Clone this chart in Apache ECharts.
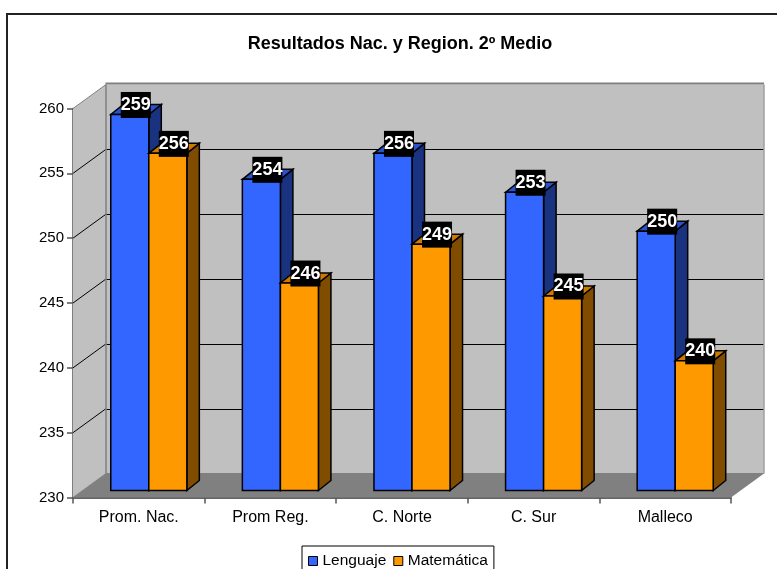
<!DOCTYPE html>
<html lang="es">
<head>
    <meta charset="UTF-8"/>
    <title>Resultados Nac. y Region. 2º Medio</title>
    <script src="https://cdn.jsdelivr.net/npm/echarts@6/dist/echarts.min.js"></script>
    <style>
        html, body {margin: 0; padding: 0; background: #fff; overflow: hidden;}
    </style>
</head>
<body>

<div id="main" style="width: 777px;height: 569px;"></div>

<script type="text/javascript">
    var categories = ['Prom. Nac.', 'Prom Reg.', 'C. Norte', 'C. Sur', 'Malleco'];
    var lenguaje = [259, 254, 256, 253, 250];
    var matematica = [256, 246, 249, 245, 240];
    var yTicks = [230, 235, 240, 245, 250, 255, 260];

    var font = '"Liberation Sans", Arial, sans-serif';

    // fake 3D depth, in pixels
    var wallDx = 33, wallDy = -24;   // front of floor -> back wall
    var barDx = 10, barDy = -7;      // front of floor -> bar front
    var depthDx = 12.5, depthDy = -10; // depth of one bar

    function line(x1, y1, x2, y2, color, width) {
        return {
            type: 'line',
            shape: {x1: x1, y1: y1, x2: x2, y2: y2},
            style: {stroke: color, lineWidth: width}
        };
    }

    function poly(points, fill, stroke, width) {
        return {
            type: 'polygon',
            shape: {points: points},
            style: {fill: fill, stroke: stroke, lineWidth: width, lineJoin: 'miter'}
        };
    }

    // side wall, back wall, floor and gridlines
    function renderWalls(params, api) {
        var l = params.coordSys.x;
        var w = params.coordSys.width;
        var r = l + w;
        var top = api.coord([0, yTicks[yTicks.length - 1]])[1];
        var bot = api.coord([0, yTicks[0]])[1];
        var bl = l + wallDx, br = r + wallDx;
        var items = [
            poly([[bl, top + wallDy], [br, top + wallDy], [br, bot + wallDy], [bl, bot + wallDy]], '#c0c0c0', 'none', 0),
            poly([[l, top], [bl, top + wallDy], [bl, bot + wallDy], [l, bot]], '#c0c0c0', 'none', 0),
            poly([[l, bot], [bl, bot + wallDy], [br, bot + wallDy], [r, bot]], '#808080', 'none', 0)
        ];
        yTicks.forEach(function (v) {
            if (v === yTicks[0] || v === yTicks[yTicks.length - 1]) return;
            var y = api.coord([0, v])[1];
            items.push(line(l, y, bl, y + wallDy, '#000', 1));
            items.push(line(bl, Math.round(y + wallDy) + 0.5, br, Math.round(y + wallDy) + 0.5, '#000', 1));
        });
        items.push(line(bl - 0.5, top + wallDy - 1, br, top + wallDy - 1, '#808080', 2));
        items.push(line(l, top, bl, top + wallDy, '#808080', 1));
        items.push(line(bl, top + wallDy, bl, bot + wallDy, '#808080', 1.5));
        items.push(line(bl, bot + wallDy, br, bot + wallDy, '#808080', 1));
        items.push(line(br, top + wallDy, br, bot + wallDy, '#a0a0a0', 1.5));
        items.push(line(l, bot, bl, bot + wallDy, '#808080', 1));
        return {type: 'group', children: items};
    }

    function makeBar(side, front, sideColor, topColor) {
        return function (params, api) {
            var cat = api.value(0);
            var val = api.value(1);
            var center = api.coord([cat, val]);
            var base = api.coord([cat, yTicks[0]]);
            var barW = api.size([1, 0])[0] * 0.289;
            // blue sits left of the category centre, orange right of it
            var x0 = center[0] + barDx + (side < 0 ? -barW : 0);
            var x1 = x0 + barW;
            var yT = center[1] + barDy;
            var yB = base[1] + barDy;
            var black = '#000';
            return {
                type: 'group',
                children: [
                    poly([[x1, yT], [x1 + depthDx, yT + depthDy], [x1 + depthDx, yB + depthDy], [x1, yB]], sideColor, black, 1.5),
                    poly([[x0, yT], [x0 + depthDx, yT + depthDy], [x1 + depthDx, yT + depthDy], [x1, yT]], topColor, black, 1.5),
                    poly([[x0, yT], [x1, yT], [x1, yB], [x0, yB]], front, black, 1.5),
                    {
                        type: 'text',
                        z2: 10,
                        style: {
                            text: String(val),
                            x: (x0 + x1) / 2 + 6,
                            y: yT - 9.5,
                            align: 'center',
                            verticalAlign: 'middle',
                            fill: '#fff',
                            font: 'bold 18px ' + font,
                            backgroundColor: '#000',
                            padding: [4, 0, 4, 0]
                        }
                    }
                ]
            };
        };
    }

    var myChart = echarts.init(document.getElementById('main'));

    var option = {
        animation: false,
        title: {
            text: 'Resultados Nac. y Region. 2º Medio',
            left: 395,
            top: 30,
            textAlign: 'center',
            textStyle: {fontFamily: font, fontSize: 18, fontWeight: 'bold', color: '#000'}
        },
        legend: {
            left: 302,
            top: 546,
            padding: [7, 6, 12, 6],
            itemGap: 7,
            itemWidth: 9,
            itemHeight: 9,
            icon: 'rect',
            selectedMode: false,
            backgroundColor: '#fff',
            borderColor: '#000',
            borderWidth: 1,
            borderRadius: 0,
            itemStyle: {borderColor: '#000', borderWidth: 1},
            textStyle: {fontFamily: font, fontSize: 15.5, color: '#000'},
            data: ['Lenguaje', 'Matemática']
        },
        grid: {left: 73, top: 108.5, width: 658, height: 389, containLabel: false},
        xAxis: {
            type: 'category',
            data: categories,
            axisLine: {lineStyle: {color: '#333', width: 1.5}},
            axisTick: {show: true, alignWithLabel: false, length: 6, lineStyle: {color: '#555', width: 1.5}},
            axisLabel: {fontFamily: font, fontSize: 16, color: '#000', margin: 12, interval: 0}
        },
        yAxis: {
            type: 'value',
            min: 230,
            max: 260,
            interval: 5,
            splitLine: {show: false},
            axisLine: {show: true, lineStyle: {color: '#555', width: 1.5}},
            axisTick: {show: true, length: 6, lineStyle: {color: '#555', width: 1.5}},
            axisLabel: {fontFamily: font, fontSize: 15, color: '#000', margin: 9, padding: [2, 0, 0, 0]}
        },
        graphic: [{
            type: 'rect',
            silent: true,
            shape: {x: 7, y: 14, width: 800, height: 600},
            style: {fill: 'none', stroke: '#222', lineWidth: 2}
        }],
        series: [
            {
                name: 'walls',
                type: 'custom',
                z: 1,
                silent: true,
                renderItem: renderWalls,
                data: [[0, yTicks[0]]]
            },
            {
                name: 'Lenguaje',
                type: 'custom',
                z: 2,
                itemStyle: {color: '#3366ff'},
                renderItem: makeBar(-1, '#3366ff', '#1a3380', '#2952cc'),
                encode: {x: 0, y: 1},
                data: categories.map(function (c, i) { return [i, lenguaje[i]]; })
            },
            {
                name: 'Matemática',
                type: 'custom',
                z: 3,
                itemStyle: {color: '#ff9900'},
                renderItem: makeBar(1, '#ff9900', '#804d00', '#cc7a00'),
                encode: {x: 0, y: 1},
                data: categories.map(function (c, i) { return [i, matematica[i]]; })
            }
        ]
    };

    myChart.setOption(option);
</script>
</body>
</html>
